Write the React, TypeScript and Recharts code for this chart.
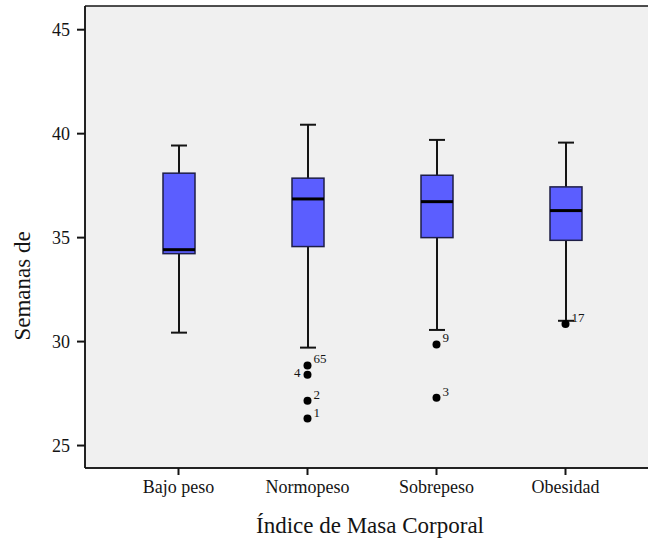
import { Bar, CartesianGrid, ComposedChart, Label, Scatter, XAxis, YAxis } from "recharts";

// Gestational weeks by BMI group (box-and-whisker summary)
const categories = ["Bajo peso", "Normopeso", "Sobrepeso", "Obesidad"];
const whiskerLow = [30.43, 29.71, 30.56, 31.0];
const q1 = [34.23, 34.57, 35.0, 34.87];
const median = [34.42, 36.86, 36.73, 36.3];
const q3 = [38.1, 37.86, 38.0, 37.44];
const whiskerHigh = [39.43, 40.43, 39.7, 39.57];

// outliers per group, with their case numbers
const outlierValues = [[], [28.85, 28.41, 27.15, 26.3], [29.86, 27.3], [30.84]];
const outlierIds = [[], ["65", "4", "2", "1"], ["9", "3"], ["17"]];

const yTicks = [25, 30, 35, 40, 45];

const maxOutliers = Math.max(...outlierValues.map((o) => o.length));

const data = categories.map((name, i) => {
  const row: Record<string, unknown> = {
    name,
    whisker: [whiskerLow[i], whiskerHigh[i]],
    box: [q1[i], q3[i]],
    median: median[i],
  };
  for (let k = 0; k < maxOutliers; k++) {
    row[`out${k}`] = outlierValues[i][k] ?? null;
    row[`id${k}`] = outlierIds[i][k] ?? null;
  }
  return row;
});

const FONT = "'Liberation Serif', 'Times New Roman', serif";
const INK = "#141414";
const labelsLeft = new Set(["4"]);

function WhiskerShape(props: any) {
  const { x, y, width, height } = props;
  const cx = x + width / 2;
  return (
    <g stroke={INK} strokeWidth={2}>
      <line x1={cx} y1={y} x2={cx} y2={y + height} />
      <line x1={x} y1={y} x2={x + width} y2={y} />
      <line x1={x} y1={y + height} x2={x + width} y2={y + height} />
    </g>
  );
}

function BoxShape(props: any) {
  const { x, y, width, height, payload } = props;
  const [lo, hi] = payload.box;
  // linear scale, so the median sits proportionally inside the box
  const my = y + (height * (hi - payload.median)) / (hi - lo);
  return (
    <g>
      <rect x={x} y={y} width={width} height={height} fill="#5b5eff" stroke="#1e1e46" strokeWidth={1.5} />
      <line x1={x} y1={my} x2={x + width} y2={my} stroke="#000" strokeWidth={3} />
    </g>
  );
}

function outlierShape(k: number) {
  return (props: any) => {
    const { cx, cy, payload } = props;
    const v = payload[`out${k}`];
    if (v == null || !Number.isFinite(cy)) return <g />;
    const id = payload[`id${k}`];
    const left = labelsLeft.has(id);
    return (
      <g>
        <circle cx={cx} cy={cy} r={4} fill="#000" />
        <text
          x={left ? cx - 7 : cx + 6}
          y={left ? cy + 2 : cy - 2}
          textAnchor={left ? "end" : "start"}
          fontSize={13}
          fontFamily={FONT}
          fill={INK}
        >
          {id}
        </text>
      </g>
    );
  };
}

function YTitle(props: any) {
  const vb = props.viewBox;
  const x = vb.x + 30;
  const y = vb.y + vb.height / 2 + 49;
  return (
    <text x={x} y={y} transform={`rotate(-90, ${x}, ${y})`} textAnchor="middle" fontSize={23} fontFamily={FONT} fill={INK}>
      Semanas de
    </text>
  );
}

function XTitle(props: any) {
  const vb = props.viewBox;
  return (
    <text x={vb.x + 285} y={vb.y + vb.height - 6} textAnchor="middle" fontSize={23} fontFamily={FONT} fill={INK}>
      Índice de Masa Corporal
    </text>
  );
}

export default function App() {
  // plot runs off the right edge, so its right border is not drawn
  const pad = { left: 29, right: 20 };
  return (
    <div style={{ position: "absolute", left: 0, top: 0, width: 648, height: 539, background: "#fff", overflow: "hidden" }}>
      <ComposedChart width={651} height={539} data={data} margin={{ top: 6, right: 1, bottom: 0, left: 0 }}>
        <CartesianGrid
          fill="#f0f0f0"
          stroke={INK}
          strokeWidth={1.5}
          horizontalCoordinatesGenerator={({ offset }: any) => [offset.top, offset.top + offset.height]}
          verticalCoordinatesGenerator={({ offset }: any) => [offset.left, offset.left + offset.width]}
        />
        <XAxis
          dataKey="name"
          padding={pad}
          height={71}
          tickSize={7}
          tickMargin={5}
          stroke={INK}
          axisLine={{ stroke: INK, strokeWidth: 1.5 }}
          tickLine={{ stroke: INK, strokeWidth: 2 }}
          tick={{ fontSize: 18, fontFamily: FONT, fill: INK }}
          interval={0}
        >
          <Label content={XTitle} />
        </XAxis>
        <XAxis xAxisId="w" dataKey="name" padding={pad} hide />
        <YAxis
          type="number"
          domain={[23.92, 46.14]}
          ticks={yTicks}
          width={85}
          tickSize={8}
          tickMargin={7}
          stroke={INK}
          axisLine={{ stroke: INK, strokeWidth: 1.5 }}
          tickLine={{ stroke: INK, strokeWidth: 2 }}
          tick={{ fontSize: 18, fontFamily: FONT, fill: INK }}
        >
          <Label content={YTitle} />
        </YAxis>
        <Bar xAxisId="w" dataKey="whisker" barSize={16} shape={WhiskerShape} isAnimationActive={false} />
        <Bar dataKey="box" barSize={32} shape={BoxShape} isAnimationActive={false} />
        {Array.from({ length: maxOutliers }, (_, k) => (
          <Scatter key={k} dataKey={`out${k}`} shape={outlierShape(k)} isAnimationActive={false} />
        ))}
      </ComposedChart>
    </div>
  );
}
